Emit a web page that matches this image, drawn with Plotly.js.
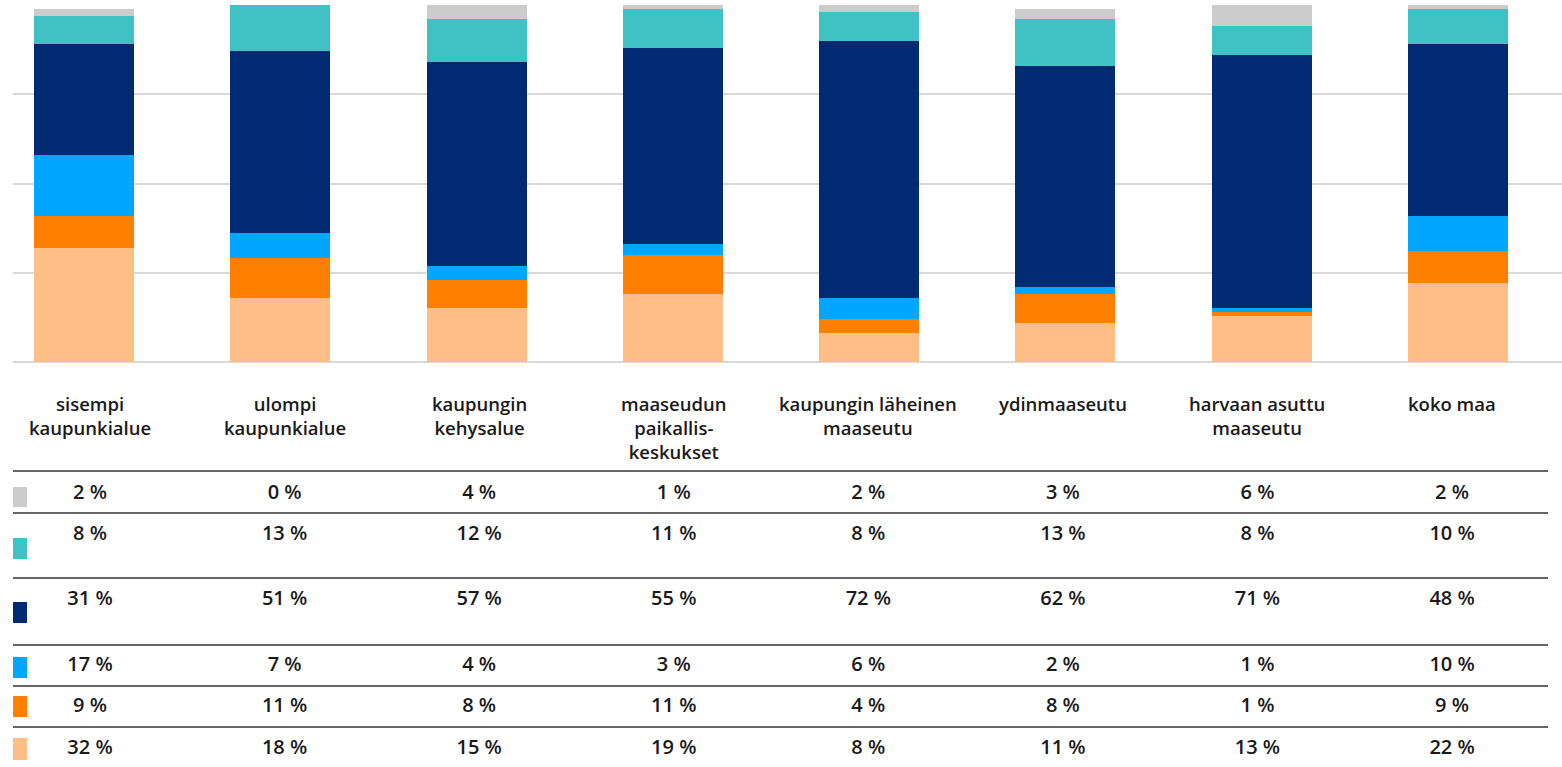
<!DOCTYPE html>
<html>
<head>
<meta charset="utf-8">
<script src="https://cdn.plot.ly/plotly-3.0.1.min.js"></script>
<style>html,body{margin:0;padding:0;background:#fff;}#chart{width:1562px;height:767px;}</style>
</head>
<body>
<div id="chart"></div>
<script>
const categories = ['sisempi<br>kaupunkialue', 'ulompi<br>kaupunkialue', 'kaupungin<br>kehysalue', 'maaseudun<br>paikallis-<br>keskukset', 'kaupungin läheinen<br>maaseutu', 'ydinmaaseutu', 'harvaan asuttu<br>maaseutu', 'koko maa'];
const grayVals   = [2, 0, 4, 1, 2, 3, 6, 2];
const tealVals   = [8, 13, 12, 11, 8, 13, 8, 10];
const navyVals   = [31, 51, 57, 55, 72, 62, 71, 48];
const blueVals   = [17, 7, 4, 3, 6, 2, 1, 10];
const orangeVals = [9, 11, 8, 11, 4, 8, 1, 9];
const peachVals  = [32, 18, 15, 19, 8, 11, 13, 22];

// table rows, top to bottom
const rows = [
  {vals: grayVals,   color: '#cccccc', y: 494, m0: 487, m1: 507, line: 513},
  {vals: tealVals,   color: '#40c1c3', y: 535, m0: 538, m1: 559, line: 578},
  {vals: navyVals,   color: '#002b72', y: 600, m0: 602, m1: 623, line: 645},
  {vals: blueVals,   color: '#00a6ff', y: 666, m0: 657, m1: 678, line: 686},
  {vals: orangeVals, color: '#ff7f00', y: 707, m0: 696, m1: 717, line: 727},
  {vals: peachVals,  color: '#ffbe85', y: 749, m0: 738, m1: 760, line: null}
];

const idx = categories.map((c, i) => i);
const FONT = '"Open Sans", "Noto Sans", sans-serif';
const traces = [];
// stack from bottom: peach, orange, blue, navy, teal, gray
[5, 4, 3, 2, 1, 0].forEach(r => {
  traces.push({
    type: 'bar', x: idx, y: rows[r].vals, width: 0.51,
    marker: {color: rows[r].color, line: {width: 0}},
    xaxis: 'x', yaxis: 'y', hoverinfo: 'skip'
  });
});
// table values
rows.forEach(r => {
  traces.push({
    type: 'scatter', mode: 'text', x: idx, y: idx.map(() => r.y),
    text: r.vals.map(v => v + '\u00a0%'), textposition: 'middle center',
    textfont: {family: FONT, size: 20, weight: 600, color: '#1a1a1a'},
    xaxis: 'x2', yaxis: 'y2', hoverinfo: 'skip'
  });
});

const shapes = [];
const lineX1 = (1548 - 13) / 1549;
shapes.push({type: 'line', xref: 'paper', yref: 'y2', x0: 0, x1: lineX1, y0: 471, y1: 471, line: {color: '#333', width: 1.5}});
rows.forEach(r => {
  if (r.line) shapes.push({type: 'line', xref: 'paper', yref: 'y2', x0: 0, x1: lineX1, y0: r.line, y1: r.line, line: {color: '#333', width: 1.5}});
  shapes.push({type: 'rect', xref: 'paper', yref: 'y2', x0: 0, x1: 14 / 1549, y0: r.m0, y1: r.m1, fillcolor: r.color, line: {width: 0}});
});

const annotations = categories.map((c, i) => ({
  xref: 'x2', yref: 'y2', x: i, y: 389, text: c, showarrow: false,
  xanchor: 'center', yanchor: 'top', align: 'center',
  font: {family: FONT, size: 18.5, weight: 600, color: '#1a1a1a'}
}));

const layout = {
  width: 1562, height: 767,
  margin: {l: 13, r: 0, t: 5, b: 0, pad: 0},
  paper_bgcolor: '#fff', plot_bgcolor: '#fff',
  barmode: 'stack', showlegend: false, hovermode: false,
  xaxis: {range: [-0.362, 7.531], showticklabels: false, showgrid: false, zeroline: false, showline: false, ticks: '', fixedrange: true},
  yaxis: {domain: [405 / 762, 1], range: [0, 100], tickvals: [0, 25, 50, 75, 100], showticklabels: false, showgrid: true, gridcolor: '#d9d9d9', gridwidth: 2, zeroline: true, zerolinecolor: '#d9d9d9', zerolinewidth: 2, ticks: '', fixedrange: true},
  xaxis2: {anchor: 'y2', overlaying: 'x', range: [-0.3957, 7.565], showticklabels: false, showgrid: false, zeroline: false, showline: false, ticks: ''},
  yaxis2: {domain: [0, 405 / 762], range: [767, 362], showticklabels: false, showgrid: false, zeroline: false, showline: false, ticks: ''},
  shapes: shapes, annotations: annotations
};
Plotly.newPlot('chart', traces, layout, {displayModeBar: false, staticPlot: true});
</script>
</body>
</html>
